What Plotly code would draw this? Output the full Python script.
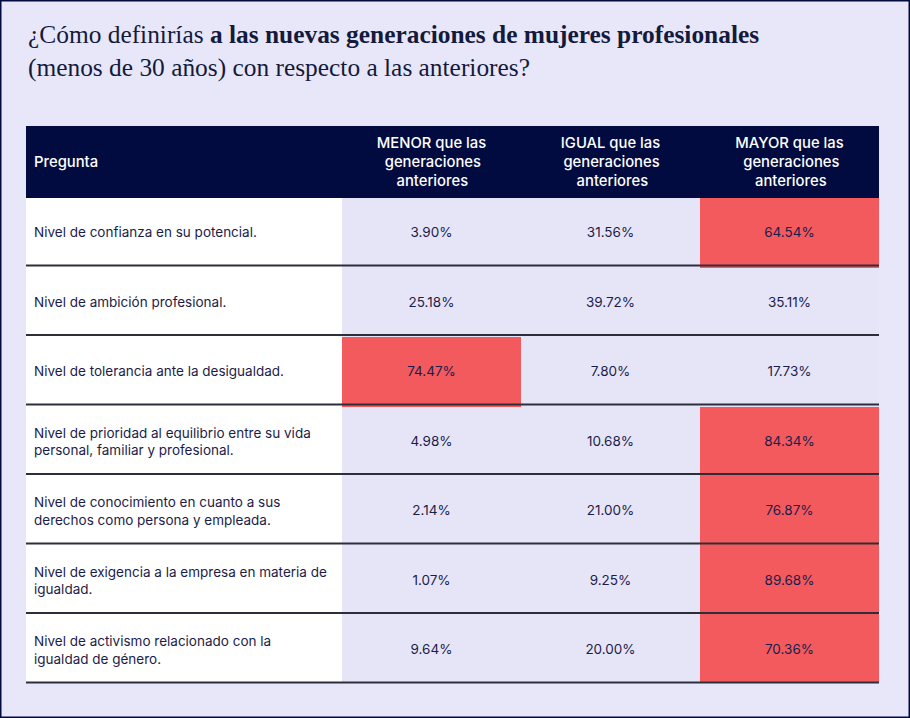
import plotly.graph_objects as go

preguntas = [
    "Nivel de confianza en su potencial.",
    "Nivel de ambición profesional.",
    "Nivel de tolerancia ante la desigualdad.",
    "Nivel de prioridad al equilibrio entre su vida<br>personal, familiar y profesional.",
    "Nivel de conocimiento en cuanto a sus<br>derechos como persona y empleada.",
    "Nivel de exigencia a la empresa en materia de<br>igualdad.",
    "Nivel de activismo relacionado con la<br>igualdad de género.",
]
menor = [3.90, 25.18, 74.47, 4.98, 2.14, 1.07, 9.64]
igual = [31.56, 39.72, 7.80, 10.68, 21.00, 9.25, 20.00]
mayor = [64.54, 35.11, 17.73, 84.34, 76.87, 89.68, 70.36]

NB = "\u00a0"
TH = "\u2009"
headers = [NB + "<br>Pregunta",
           "MENOR que las<br>" + NB * 2 + "generaciones<br>" + NB * 5 + "anteriores",
           "IGUAL que las<br>" + TH + "generaciones<br>" + NB * 4 + "anteriores",
           "MAYOR que las<br>" + NB * 2 + "generaciones<br>" + NB * 5 + "anteriores"]

BG = "#E8E7F9"
CELL = "#E6E5F8"
RED = "#F25A5E"
NAVY = "#020B3F"
TXT = "#1C1C4A"

W, H = 910, 718
x0, x1 = 26, 879
y_top = 126
hdr_h, row_h = 70, 69.5
y_bot = y_top + hdr_h + row_h * len(preguntas)


def col_fills():
    # highlight the majority answer in each row
    out = [[], [], []]
    for i in range(len(preguntas)):
        vals = [menor[i], igual[i], mayor[i]]
        for j in range(3):
            out[j].append(RED if vals[j] > 50 else CELL)
    return out


cf = col_fills()
fill_colors = [["white"] * len(preguntas)] + cf


def cell_text(s):
    if "<br>" in s:
        return "<span style='font-size:5px'>" + NB + "</span><br>" + s
    return NB + "<br>" + s


fig = go.Figure(go.Table(
    domain=dict(x=[x0 / W, x1 / W], y=[1 - y_bot / H, 1 - y_top / H]),
    columnwidth=[316, 179, 179, 179],
    header=dict(
        values=headers,
        fill_color=NAVY,
        line=dict(color=NAVY, width=0),
        align=["left", "center", "center", "center"],
        font=dict(family="Inter", size=14.8, color="white", weight=500),
        height=hdr_h,
    ),
    cells=dict(
        values=[[cell_text(p) for p in preguntas],
                [cell_text(f"{v:.2f}%") for v in menor],
                [cell_text(f"{v:.2f}%") for v in igual],
                [cell_text(f"{v:.2f}%") for v in mayor]],
        fill_color=fill_colors,
        line=dict(color=fill_colors, width=0),
        align=["left", "center", "center", "center"],
        font=dict(family="Inter", size=13.5, color=TXT),
        height=row_h,
    ),
))

shapes = [dict(type="rect", xref="paper", yref="paper", x0=0, x1=1, y0=0, y1=1,
               line=dict(color=NAVY, width=3), fillcolor="rgba(0,0,0,0)")]
for i in range(len(preguntas)):
    y = y_top + hdr_h + (i + 1) * row_h
    shapes.append(dict(type="line", xref="paper", yref="paper",
                       x0=x0 / W, x1=x1 / W, y0=1 - y / H, y1=1 - y / H,
                       line=dict(color="#2E2E3A", width=2), layer="above"))

title_font = dict(family="Liberation Serif", size=25.4, color="#141A3C")
fig.update_layout(
    width=W, height=H,
    margin=dict(l=0, r=0, t=0, b=0),
    paper_bgcolor=BG, plot_bgcolor=BG,
    shapes=shapes,
    annotations=[
        dict(xref="paper", yref="paper", x=x0 / W, y=1 - 42 / H,
             xanchor="left", yanchor="bottom", align="left", showarrow=False,
             yshift=-8,
             text="¿Cómo definirías <b>a las nuevas generaciones de mujeres profesionales</b>",
             font=title_font),
        dict(xref="paper", yref="paper", x=x0 / W, y=1 - 76 / H,
             xanchor="left", yanchor="bottom", align="left", showarrow=False,
             yshift=-8,
             text="(menos de 30 años) con respecto a las anteriores?",
             font=title_font),
    ],
)

fig.write_html("out.html",
               config={"displayModeBar": False},
               post_script="document.body.style.margin='0';document.body.style.background='#E8E7F9';")
